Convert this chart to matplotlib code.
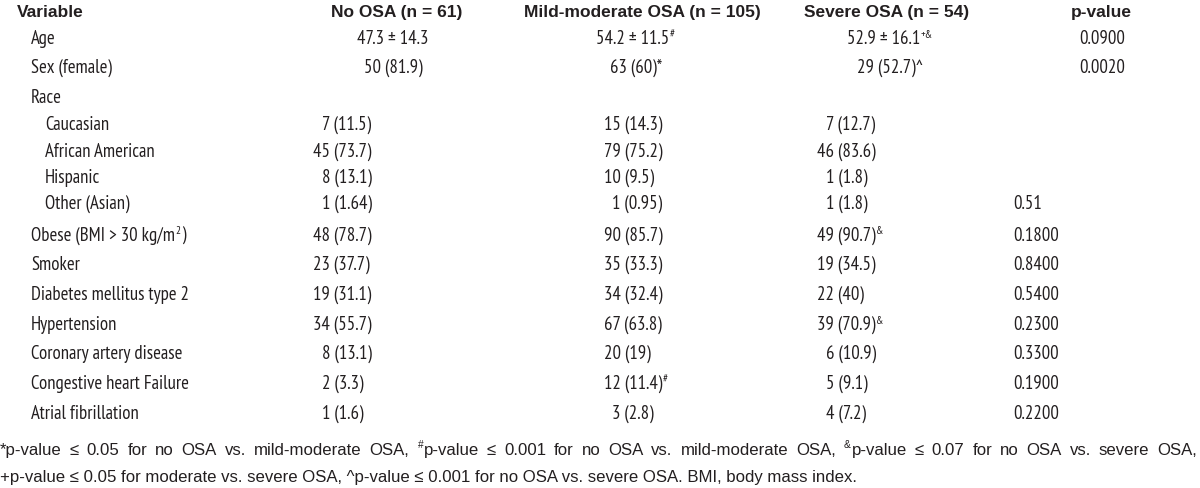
import matplotlib
matplotlib.use("Agg")
import matplotlib.pyplot as plt

body_font = ['PT Sans Narrow', 'Liberation Sans', 'DejaVu Sans']
head_font = ['Liberation Sans', 'DejaVu Sans']
plt.rcParams['font.family'] = body_font

# table content
headers = ["Variable", "No OSA (n = 61)", "Mild-moderate OSA (n = 105)", "Severe OSA (n = 54)", "p-value"]
variables = ["Age", "Sex (female)", "Race", "Caucasian", "African American", "Hispanic",
             "Other (Asian)", "Obese (BMI > 30 kg/m", "Smoker", "Diabetes mellitus type 2",
             "Hypertension", "Coronary artery disease", "Congestive heart Failure",
             "Atrial fibrillation"]
var_sup = ["", "", "", "", "", "", "", "2", "", "", "", "", "", ""]
var_tail = ["", "", "", "", "", "", "", ")", "", "", "", "", "", ""]
sub_rows = [False, False, False, True, True, True, True, False, False, False, False, False, False, False]
no_osa = ["47.3 ± 14.3", "50 (81.9)", "", "7 (11.5)", "45 (73.7)", "8 (13.1)", "1 (1.64)",
          "48 (78.7)", "23 (37.7)", "19 (31.1)", "34 (55.7)", "8 (13.1)", "2 (3.3)", "1 (1.6)"]
mild_mod = ["54.2 ± 11.5", "63 (60)*", "", "15 (14.3)", "79 (75.2)", "10 (9.5)", "1 (0.95)",
            "90 (85.7)", "35 (33.3)", "34 (32.4)", "67 (63.8)", "20 (19)", "12 (11.4)", "3 (2.8)"]
mild_sup = ["#", "", "", "", "", "", "", "", "", "", "", "", "#", ""]
severe = ["52.9 ± 16.1", "29 (52.7)^", "", "7 (12.7)", "46 (83.6)", "1 (1.8)", "1 (1.8)",
          "49 (90.7)", "19 (34.5)", "22 (40)", "39 (70.9)", "6 (10.9)", "5 (9.1)", "4 (7.2)"]
severe_sup = ["+&", "", "", "", "", "", "", "&", "", "", "&", "", "", ""]
pvals = ["0.0900", "0.0020", "", "", "", "", "0.51", "0.1800", "0.8400", "0.5400",
         "0.2300", "0.3300", "0.1900", "0.2200"]

# footnote, "{#}" / "{&}" mark a superscript in front of a word
foot1 = "*p-value ≤ 0.05 for no OSA vs. mild-moderate OSA, {#}p-value ≤ 0.001 for no OSA vs. mild-moderate OSA, {&}p-value ≤ 0.07 for no OSA vs. severe OSA,"
foot2 = "+p-value ≤ 0.05 for moderate vs. severe OSA, ^p-value ≤ 0.001 for no OSA vs. severe OSA. BMI, body mass index."

ink = "#231f20"
fs = 13.5

fig = plt.figure(figsize=(12, 4.89), dpi=100)
ax = fig.add_axes([0, 0, 1, 1])
ax.set_xlim(0, 1200)
ax.set_ylim(489, 0)
ax.axis("off")
rend = fig.canvas.get_renderer()


def width(s, size=fs, weight="normal", family=None):
    t = ax.text(0, 0, s, fontsize=size, weight=weight, family=family or body_font)
    w = t.get_window_extent(rend).width
    t.remove()
    return w


digit_w = width("00") - width("0")


def put(x, y, parts, ha="left", size=fs, weight="normal", family=None):
    # parts: list of (text, is_superscript)
    family = family or body_font
    arts = []
    cx = x
    for s, sup in parts:
        if not s:
            continue
        if sup:
            t = ax.text(cx + 0.5, y - 6.5, s, fontsize=size * 0.6, weight=weight,
                        family=family, color=ink, va="baseline", ha="left")
        else:
            t = ax.text(cx, y, s, fontsize=size, weight=weight, family=family,
                        color=ink, va="baseline", ha="left")
        cx = t.get_window_extent(rend).x1 + (0.5 if sup else 0)
        arts.append(t)
    total = cx - x
    shift = {"left": 0, "center": -total / 2, "right": -total}[ha]
    for t in arts:
        t.set_x(t.get_position()[0] + shift)
    return cx + shift


# row baselines (pixels from top)
header_y = 17
row_y = [44, 73, 103, 130, 157, 183, 209, 241, 270, 300, 330, 359, 389, 419]

# header
put(17, header_y, [(headers[0], False)], weight="bold", size=12.5, family=head_font)
for cx, h in zip([397, 642, 887, 1101], headers[1:]):
    put(cx, header_y, [(h, False)], ha="center", weight="bold", size=12.5, family=head_font)

col_left = [313, 604, 817]
col_mid = [393, 636, 890]
for i, y in enumerate(row_y):
    lx = 45 if sub_rows[i] else 31
    put(lx, y, [(variables[i], False), (var_sup[i], True), (var_tail[i], False)])
    cells = [(no_osa[i], ""), (mild_mod[i], mild_sup[i]), (severe[i], severe_sup[i])]
    for k, (val, sup) in enumerate(cells):
        if not val:
            continue
        parts = [(val, False), (sup, True)]
        if i < 2:
            put(col_mid[k], y, parts, ha="center")
        else:
            lead = val.split(" ")[0]
            x0 = col_left[k] + (digit_w if len(lead) == 1 else 0)
            put(x0, y, parts)
    if pvals[i]:
        if i < 2:
            put(1102, y, [(pvals[i], False)], ha="center")
        else:
            put(1013, y, [(pvals[i], False)])

# footnote: first line justified to the full width, second line ragged
fsz = 12.1
words = foot1.split(" ")
tokens = []
for w in words:
    if w.startswith("{"):
        tokens.append([(w[1], True), (w[3:], False)])
    else:
        tokens.append([(w, False)])
widths = []
for tok in tokens:
    end = put(0, -100, tok, size=fsz, family=head_font)
    widths.append(end)
for t in list(ax.texts):
    if t.get_position()[1] == -100 or t.get_position()[1] == -106.5:
        t.remove()
gap = (1197 - sum(widths)) / (len(tokens) - 1)
cx = 0
for tok, w in zip(tokens, widths):
    put(cx, 455, tok, size=fsz, family=head_font)
    cx += w + gap
put(0, 482, [(foot2, False)], size=fsz, family=head_font)

fig.savefig("out.png", dpi=100, facecolor="white")
